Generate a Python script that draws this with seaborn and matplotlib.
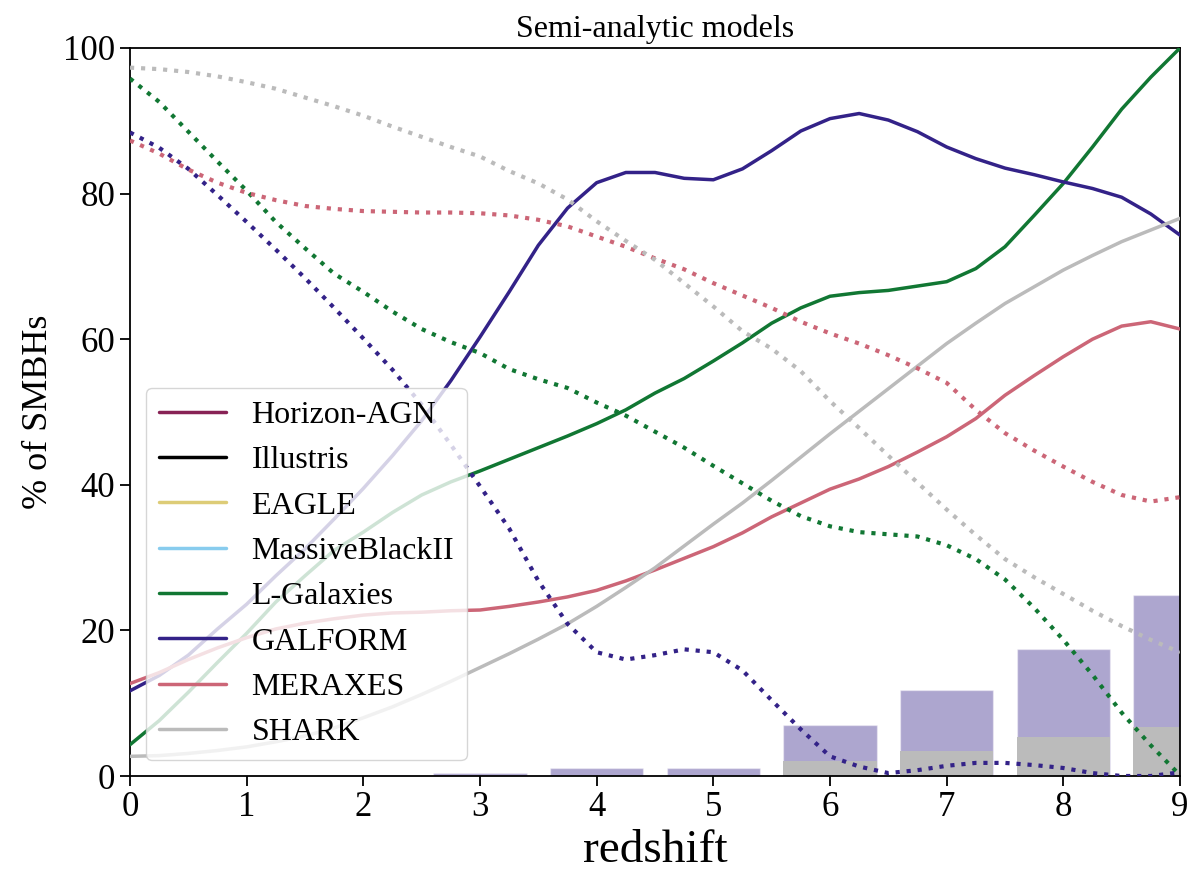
import matplotlib
matplotlib.use("Agg")
import matplotlib.pyplot as plt
from matplotlib.lines import Line2D
import seaborn as sns

# ---- data -----------------------------------------------------------------
redshift = [0.0, 0.25, 0.5, 0.75, 1.0, 1.25, 1.5, 1.75, 2.0, 2.25,
            2.5, 2.75, 3.0, 3.25, 3.5, 3.75, 4.0, 4.25, 4.5, 4.75,
            5.0, 5.25, 5.5, 5.75, 6.0, 6.25, 6.5, 6.75, 7.0, 7.25,
            7.5, 7.75, 8.0, 8.25, 8.5, 8.75, 9.0]

# solid curves
lgal_solid = [4.3, 7.6, 11.5, 15.6, 19.6, 23.9, 27.5, 31.0, 33.5, 36.2,
              38.6, 40.4, 41.9, 43.5, 45.1, 46.7, 48.4, 50.3, 52.6, 54.6,
              57.0, 59.5, 62.2, 64.3, 65.9, 66.4, 66.7, 67.3, 67.9, 69.7,
              72.7, 77.0, 81.4, 86.4, 91.6, 96.0, 100.0]
galform_solid = [11.7, 13.8, 16.6, 20.2, 23.6, 27.5, 31.2, 35.3, 39.5, 44.0,
                 48.8, 54.3, 60.3, 66.5, 72.9, 78.0, 81.5, 82.9, 82.9, 82.1,
                 81.9, 83.4, 85.9, 88.6, 90.3, 91.0, 90.1, 88.5, 86.4, 84.8,
                 83.5, 82.6, 81.6, 80.7, 79.5, 77.2, 74.3]
meraxes_solid = [12.7, 14.2, 16.0, 17.6, 19.0, 20.2, 21.0, 21.6, 22.1, 22.4,
                 22.5, 22.7, 22.8, 23.3, 23.9, 24.6, 25.5, 26.8, 28.3, 29.9,
                 31.5, 33.4, 35.6, 37.5, 39.4, 40.8, 42.5, 44.5, 46.6, 49.1,
                 52.3, 55.0, 57.6, 60.0, 61.8, 62.4, 61.4]
shark_solid = [2.7, 2.8, 3.1, 3.5, 4.0, 4.7, 5.5, 6.6, 8.0, 9.5,
               11.2, 13.0, 14.9, 16.8, 18.8, 20.9, 23.3, 25.9, 28.6, 31.6,
               34.6, 37.5, 40.6, 43.8, 47.0, 50.1, 53.2, 56.3, 59.4, 62.2,
               64.9, 67.2, 69.5, 71.5, 73.4, 75.0, 76.6]

# dotted curves
lgal_dotted = [95.8, 92.6, 88.5, 84.4, 80.4, 76.1, 72.5, 69.0, 66.5, 63.8,
               61.4, 59.6, 58.1, 55.9, 54.5, 53.3, 51.3, 49.5, 47.3, 45.1,
               42.6, 40.2, 37.8, 35.7, 34.3, 33.5, 33.2, 32.9, 31.7, 29.8,
               27.0, 23.1, 18.7, 13.9, 8.7, 4.2, 0.1]
galform_dotted = [88.4, 86.3, 83.4, 79.8, 76.1, 72.3, 68.4, 64.3, 60.1, 55.8,
                  51.0, 45.5, 39.8, 34.0, 26.8, 20.9, 17.0, 16.0, 16.6, 17.4,
                  17.0, 14.5, 10.4, 6.4, 2.7, 1.3, 0.4, 0.8, 1.4, 1.8,
                  1.8, 1.5, 1.1, 0.4, 0.0, 0.0, 0.5]
meraxes_dotted = [87.3, 85.5, 83.3, 81.5, 80.1, 79.1, 78.3, 77.9, 77.6, 77.5,
                  77.4, 77.4, 77.3, 77.0, 76.4, 75.5, 74.1, 72.7, 71.1, 69.6,
                  67.7, 66.0, 64.3, 62.4, 60.8, 59.4, 57.8, 56.0, 54.0, 50.3,
                  47.1, 44.7, 42.5, 40.4, 38.6, 37.7, 38.3]
shark_dotted = [97.3, 97.1, 96.7, 96.1, 95.3, 94.4, 93.2, 92.0, 90.7, 89.2,
                87.8, 86.4, 85.1, 83.1, 81.4, 79.2, 76.2, 73.5, 70.9, 67.7,
                64.5, 61.1, 58.7, 55.6, 51.5, 47.8, 44.0, 40.3, 36.6, 33.1,
                29.8, 27.3, 25.0, 22.7, 20.6, 18.7, 17.0]

# remaining fraction at integer redshifts (bars)
bar_redshift = [1, 2, 3, 4, 5, 6, 7, 8, 9]
galform_bar = [0.0, 0.15, 0.45, 1.15, 1.15, 7.0, 11.8, 17.4, 24.9]
shark_bar = [0.0, 0.0, 0.0, 0.0, 0.0, 2.0, 3.5, 5.3, 6.7]

models = ["Horizon-AGN", "Illustris", "EAGLE", "MassiveBlackII",
          "L-Galaxies", "GALFORM", "MERAXES", "SHARK"]
model_colors = ["#882255", "#000000", "#DDCC77", "#88CCEE",
                "#117733", "#332288", "#CC6677", "#BBBBBB"]

# ---- style ----------------------------------------------------------------
sns.set_style("ticks")
plt.rcParams["font.family"] = ["Liberation Serif", "DejaVu Serif"]
plt.rcParams.update({
    "text.color": "black",
    "axes.labelcolor": "black",
    "xtick.color": "black",
    "ytick.color": "black",
    "axes.edgecolor": "black",
})

fig = plt.figure(figsize=(11.9, 8.71), dpi=100)
ax = fig.add_axes([130 / 1190, 1 - 776 / 871, 1050 / 1190, 728 / 871])

color_of = dict(zip(models, model_colors))

# bars
sns.barplot(x=bar_redshift, y=galform_bar, native_scale=True, ax=ax,
            color=color_of["GALFORM"], saturation=1, alpha=0.4,
            edgecolor="white", linewidth=1.0, errorbar=None, zorder=1)
sns.barplot(x=bar_redshift, y=shark_bar, native_scale=True, ax=ax,
            color=color_of["SHARK"], saturation=1, alpha=1.0,
            edgecolor=color_of["SHARK"], linewidth=0, errorbar=None, zorder=1.1)

solid = {"L-Galaxies": lgal_solid, "GALFORM": galform_solid,
         "MERAXES": meraxes_solid, "SHARK": shark_solid}
dotted = {"L-Galaxies": lgal_dotted, "GALFORM": galform_dotted,
          "MERAXES": meraxes_dotted, "SHARK": shark_dotted}

for name, vals in solid.items():
    sns.lineplot(x=redshift, y=vals, ax=ax, color=color_of[name],
                 linewidth=2.5, linestyle="-", legend=False, zorder=3)
for name, vals in dotted.items():
    sns.lineplot(x=redshift, y=vals, ax=ax, color=color_of[name],
                 linewidth=3.0, linestyle=":", legend=False, zorder=3)

ax.set_xlim(0, 9)
ax.set_ylim(0, 100)
ax.set_xticks(range(0, 10))
ax.set_xticklabels([str(i) for i in range(0, 10)])
ax.set_yticks([0, 20, 40, 60, 80, 100])
ax.set_yticklabels(["0", "20", "40", "60", "80", "100"])
ax.tick_params(axis="both", direction="out", length=7, width=1.3,
               labelsize=25, color="black", labelcolor="black")
for sp in ax.spines.values():
    sp.set_visible(True)
    sp.set_linewidth(1.3)
    sp.set_color("black")

ax.set_xlabel("redshift", fontsize=34, labelpad=4)
ax.set_ylabel("% of SMBHs", fontsize=26, labelpad=6)
ax.set_title("Semi-analytic models", fontsize=23, pad=8)

handles = [Line2D([], [], color=c, linewidth=2.5) for c in model_colors]
ax.legend(handles, models, loc="lower left", fontsize=23,
          labelspacing=0.5, handlelength=2.1, framealpha=0.8)

fig.savefig("out.png", dpi=100)
